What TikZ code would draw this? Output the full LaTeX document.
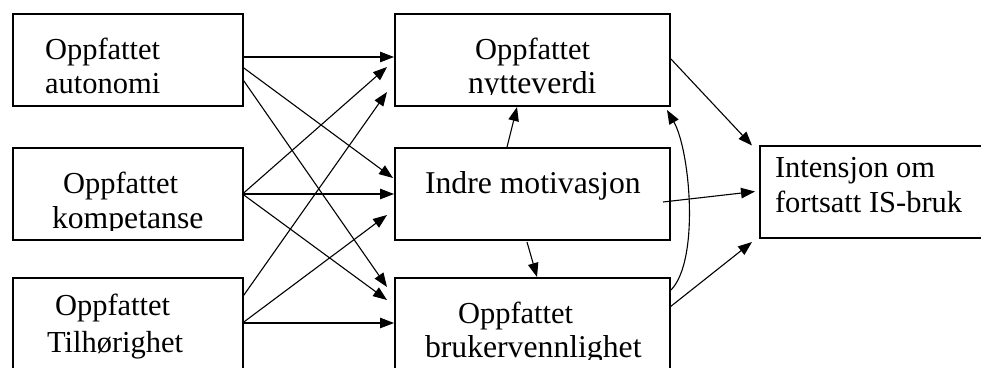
\documentclass[tikz,border=0pt]{standalone}
\usepackage{fontspec}
\setmainfont{Liberation Serif}
\usetikzlibrary{arrows.meta,calc}
\begin{document}
\begin{tikzpicture}[x=1pt,y=-1pt,
  box/.style={draw,line width=2pt,inner sep=0pt,outer sep=0pt,anchor=north west},
  lbl/.style={anchor=base west,inner sep=0pt,outer sep=0pt,font=\fontsize{30.5}{34}\selectfont},
  lblb/.style={lbl,font=\fontsize{31.7}{34}\selectfont},
  arr/.style={-{Triangle[length=14pt,width=10.5pt]},line width=1.1pt}]
\useasboundingbox (0,0) rectangle (981,367);
\clip (0,0) rectangle (981,367);
% boxes
\node[box,minimum width=230pt,minimum height=92.5pt] (A) at (12.5,13.5) {};
\node[box,minimum width=230pt,minimum height=92pt] (K) at (12.5,148) {};
\node[box,minimum width=230pt,minimum height=120pt] (T) at (12.5,278) {};
\node[box,minimum width=275pt,minimum height=92.5pt] (N) at (395,13.5) {};
\node[box,minimum width=275pt,minimum height=92pt] (I) at (395,148) {};
\node[box,minimum width=275pt,minimum height=120pt] (B) at (395,278) {};
\node[box,minimum width=260pt,minimum height=92.5pt] (R) at (760,145.5) {};
% texts
\node[lbl] (tA1) at (45,59) {Oppfattet};
\node[lbl] (tA2) at (45,93.5) {autonomi};
\node[lbl] (tK1) at (63,193) {Oppfattet};
\begin{scope}
\clip (12,140) rectangle (243,230);
\node[lblb] (tK2) at (52,228) {kompetanse};
\end{scope}
\node[lbl] (tT1) at (55,315) {Oppfattet};
\node[lbl] (tT2) at (47,352) {Tilhørighet};
\node[lbl] (tN1) at (475,59) {Oppfattet};
\begin{scope}
\clip (395,60) rectangle (670,94.8);
\node[lblb] (tN2) at (468,93) {nytteverdi};
\end{scope}
\node[lblb] (tI) at (425,193) {Indre motivasjon};
\node[lbl] (tB1) at (458,323) {Oppfattet};
\begin{scope}
\clip (395,325) rectangle (670,359.5);
\node[lblb] (tB2) at (425,357) {brukervennlighet};
\end{scope}
\node[lbl] (tR1) at (775,177) {Intensjon om};
\node[lbl] (tR2) at (775,212) {fortsatt IS-bruk};
% arrows from left column
\draw[arr] ($(A.north east)+(0,43.5)$) -- ($(N.north west)+(-1,43.5)$);
\draw[arr] ($(A.north east)+(0,53.5)$) -- ($(I.north west)+(-2,30)$);
\draw[arr] ($(A.north east)+(0,65.5)$) -- ($(B.north west)+(-8,9)$);
\draw[arr] ($(K.north east)+(0,46)$) -- ($(N.north west)+(-8,53.5)$);
\draw[arr] ($(K.north east)+(0,46)$) -- ($(I.north west)+(-1,46)$);
\draw[arr] ($(K.north east)+(0,46)$) -- ($(B.north west)+(-8,22)$);
\draw[arr] ($(T.north east)+(0,19)$) -- ($(N.north west)+(-8,78.5)$);
\draw[arr] ($(T.north east)+(0,45)$) -- ($(I.north west)+(-8,67)$);
\draw[arr] ($(T.north east)+(0,45)$) -- ($(B.north west)+(-1,45)$);
% middle arrows
\draw[arr] ($(I.north west)+(112,-1)$) -- ($(N.south west)+(122,1)$);
\draw[arr] ($(I.south west)+(132,2)$) -- ($(B.north west)+(142,-1)$);
% arrows to the right box
\draw[arr] ($(N.north east)+(0,44.5)$) -- ($(R.north west)+(-8,0)$);
\draw[arr] ($(I.north east)+(-7,54)$) -- ($(R.north west)+(-5,46)$);
\draw[arr] ($(B.north east)+(0,29)$) -- ($(R.south west)+(-8,4)$);
% curved arrow
\draw[arr] ($(B.north east)+(1,12)$) .. controls (700,260) and (690,150) .. ($(N.south east)+(-3,4)$);
\end{tikzpicture}
\end{document}
